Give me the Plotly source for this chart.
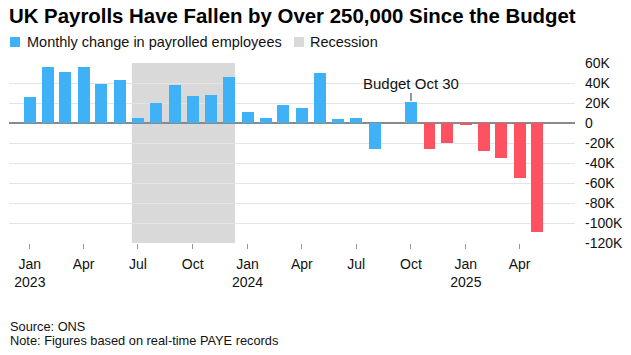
import plotly.graph_objects as go
import pandas as pd

# ---------------- data ----------------
MONTHS = [
    "2023-01", "2023-02", "2023-03", "2023-04", "2023-05", "2023-06",
    "2023-07", "2023-08", "2023-09", "2023-10", "2023-11", "2023-12",
    "2024-01", "2024-02", "2024-03", "2024-04", "2024-05", "2024-06",
    "2024-07", "2024-08", "2024-09", "2024-10", "2024-11", "2024-12",
    "2025-01", "2025-02", "2025-03", "2025-04", "2025-05",
]
PAYROLL_CHANGE = [
    26300, 55700, 50700, 56000, 38700, 42700,
    5300, 19700, 37700, 27000, 28300, 46000,
    11300, 5000, 17700, 15300, 50000, 3700,
    5300, -26000, 0, 21000, -25700, -19700,
    -2300, -28000, -35000, -55000, -109300,
]
BUDGET_MONTH = "2024-10"
BUDGET_LABEL = "Budget Oct 30"
RECESSION_START = "2023-07"
RECESSION_END = "2023-12"

TICK_DATES = ["2023-01", "2023-04", "2023-07", "2023-10",
              "2024-01", "2024-04", "2024-07", "2024-10",
              "2025-01", "2025-04"]
TICK_TEXT = ["Jan<br>2023", "Apr", "Jul", "Oct",
             "Jan<br>2024", "Apr", "Jul", "Oct",
             "Jan<br>2025", "Apr"]
Y_TICKS = [-120000, -100000, -80000, -60000, -40000, -20000, 0, 20000, 40000, 60000]
Y_TICK_TEXT = ["-120K", "-100K", "-80K", "-60K", "-40K", "-20K", "0", "20K", "40K", "60K"]

TITLE = "UK Payrolls Have Fallen by Over 250,000 Since the Budget"
LEGEND_BARS = "Monthly change in payrolled employees"
LEGEND_RECESSION = "Recession"
SOURCE = "Source: ONS"
NOTE = "Note: Figures based on real-time PAYE records"

# ---------------- style ----------------
BLUE = "#3fb1f7"
RED = "#fe5262"
SHADE = "#d9d9d9"
FONT = "Liberation Sans"
BAR_DAYS = 20

# figure geometry (page body margin removed by post_script)
W, H = 631, 355
ML, MR, MT, MB = 9, 56, 63, 112
PW = W - ML - MR
PH = H - MT - MB


def py(px):
    """pixel row -> paper y"""
    return (H - MB - px) / PH


def px_(x):
    """pixel column -> paper x"""
    return (x - ML) / PW


dates = pd.to_datetime(MONTHS)
budget = pd.Timestamp(BUDGET_MONTH)
colors = [BLUE if d <= budget else RED for d in dates]
half = pd.Timedelta(days=BAR_DAYS / 2)

fig = go.Figure()
fig.add_trace(go.Bar(
    x=dates, y=PAYROLL_CHANGE,
    width=BAR_DAYS * 24 * 3600 * 1000,
    marker=dict(color=colors, line=dict(width=0)),
    showlegend=False, hoverinfo="x+y",
))

# recession shading
fig.add_shape(type="rect", xref="x", yref="paper",
              x0=pd.Timestamp(RECESSION_START) - half,
              x1=pd.Timestamp(RECESSION_END) + half,
              y0=0, y1=1, fillcolor=SHADE, line=dict(width=0), layer="below")

# budget annotation
bud_idx = MONTHS.index(BUDGET_MONTH)
fig.add_annotation(x=dates[bud_idx], y=PAYROLL_CHANGE[bud_idx], xref="x", yref="y",
                   text=BUDGET_LABEL, showarrow=True, arrowhead=0, arrowwidth=1,
                   arrowcolor="#333", ax=0, ay=-19, standoff=1,
                   font=dict(family=FONT, size=15, color="#111"))

# manual legend
fig.add_shape(type="rect", xref="paper", yref="paper",
              x0=px_(10), x1=px_(20), y0=py(47), y1=py(37),
              fillcolor=BLUE, line=dict(width=0))
fig.add_annotation(xref="paper", yref="paper", x=px_(25), y=py(42),
                   xanchor="left", yanchor="middle", showarrow=False,
                   text=LEGEND_BARS, font=dict(family=FONT, size=14.5, color="#111"))
fig.add_shape(type="rect", xref="paper", yref="paper",
              x0=px_(294), x1=px_(304), y0=py(47), y1=py(37),
              fillcolor=SHADE, line=dict(width=0))
fig.add_annotation(xref="paper", yref="paper", x=px_(308), y=py(42),
                   xanchor="left", yanchor="middle", showarrow=False,
                   text=LEGEND_RECESSION, font=dict(family=FONT, size=14.5, color="#111"))

# footer
fig.add_annotation(xref="paper", yref="paper", x=px_(8), y=py(326),
                   xanchor="left", yanchor="middle", showarrow=False,
                   text=SOURCE, font=dict(family=FONT, size=12.8, color="#111"))
fig.add_annotation(xref="paper", yref="paper", x=px_(8), y=py(340),
                   xanchor="left", yanchor="middle", showarrow=False,
                   text=NOTE, font=dict(family=FONT, size=12.8, color="#111"))

fig.update_layout(
    width=W, height=H, autosize=False,
    margin=dict(l=ML, r=MR, t=MT, b=MB, pad=0),
    paper_bgcolor="white", plot_bgcolor="white",
    title=dict(text="<b>" + TITLE + "</b>", xref="container", yref="container",
               x=9 / W, xanchor="left", y=1 - 15.5 / H, yanchor="middle",
               font=dict(family=FONT, size=20.4, color="#000")),
    bargap=0,
    xaxis=dict(
        type="date",
        range=["2022-11-27", "2025-07-03"],
        tickvals=pd.to_datetime(TICK_DATES), ticktext=TICK_TEXT,
        ticks="outside", ticklen=5, tickcolor="#999", tickwidth=1,
        ticklabelstandoff=3,
        showgrid=False, showline=False, zeroline=False,
        tickfont=dict(family=FONT, size=14, color="#111"),
    ),
    yaxis=dict(
        side="right", range=[-120000, 60000],
        tickvals=Y_TICKS, ticktext=Y_TICK_TEXT,
        showgrid=True, gridcolor="#e4e4e4", gridwidth=1,
        zeroline=True, zerolinecolor="#8a8a8a", zerolinewidth=1.5,
        showline=False, ticks="", ticklabelstandoff=9,
        tickfont=dict(family=FONT, size=14, color="#111"),
    ),
)

fig.write_html("out.html",
               config={"displayModeBar": False},
               post_script="document.body.style.margin='0';document.body.style.overflow='hidden';")
